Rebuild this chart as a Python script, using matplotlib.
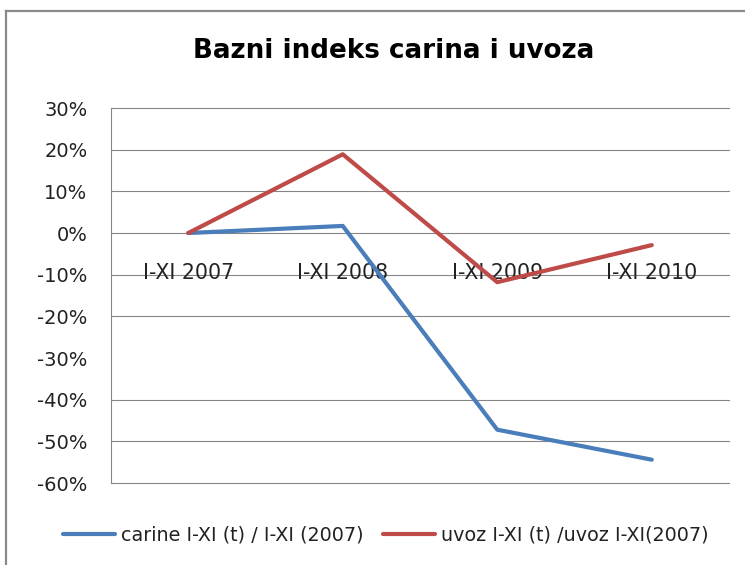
import matplotlib.pyplot as plt
from matplotlib.lines import Line2D
from matplotlib.ticker import FuncFormatter

# data
periods = ['I-XI 2007', 'I-XI 2008', 'I-XI 2009', 'I-XI 2010']
carine = [0.0, 0.017, -0.472, -0.544]
uvoz = [0.0, 0.189, -0.118, -0.029]
yticks = [0.3, 0.2, 0.1, 0.0, -0.1, -0.2, -0.3, -0.4, -0.5, -0.6]

plt.rcParams['font.family'] = ['DejaVu Sans']

fig = plt.figure(figsize=(7.45, 5.65), dpi=100)
ax = fig.add_axes([0.149, 0.1451, 0.8295, 0.6637])

grid_color = '#868686'
# horizontal gridlines (the -30% line is not visible in the reference)
for v in yticks:
    if abs(v + 0.3) < 1e-9:
        continue
    ax.axhline(v, color=grid_color, lw=0.8, zorder=1, clip_on=False)

x = list(range(len(periods)))
ax.plot(x, carine, color='#4A7EBB', lw=3, solid_capstyle='round',
        label='carine I-XI (t) / I-XI (2007)', zorder=3)
ax.plot(x, uvoz, color='#BE4B48', lw=3, solid_capstyle='round',
        label='uvoz I-XI (t) /uvoz I-XI(2007)', zorder=3)

ax.set_xlim(-0.5, len(periods) - 0.5)
ax.set_ylim(-0.6, 0.3)
ax.set_yticks(yticks)
ax.yaxis.set_major_formatter(FuncFormatter(lambda v, p: f'{v * 100:.0f}%'))
ax.tick_params(axis='y', length=0, pad=17, labelsize=14, labelcolor='#222222')
ax.set_xticks([])

for s in ['top', 'right', 'bottom']:
    ax.spines[s].set_visible(False)
ax.spines['left'].set_color(grid_color)
ax.spines['left'].set_linewidth(0.8)

# category labels sit just under the zero line
for i, lab in enumerate(periods):
    ax.text(i, -0.097, lab, ha='center', va='center', fontsize=14.8,
            color='#222222', zorder=2)

fig.text(0.528, 0.91, 'Bazni indeks carina i uvoza', ha='center', va='center',
         fontsize=18.8, fontweight='bold', color='black')

leg = fig.legend(loc='center', bbox_to_anchor=(0.518, 0.053), ncol=2, frameon=False,
                 fontsize=13.75, handlelength=2.72, handletextpad=0.31,
                 columnspacing=1.05)
for t in leg.get_texts():
    t.set_color('#222222')

# outer chart border (only top and left visible in the crop)
fig.add_artist(Line2D([0.0087, 1.0], [0.9805, 0.9805], transform=fig.transFigure,
                      color='#8a8a8a', lw=1.6))
fig.add_artist(Line2D([0.0087, 0.0087], [0.0, 0.9805], transform=fig.transFigure,
                      color='#8a8a8a', lw=1.6))

fig.savefig('out.png', dpi=100)
